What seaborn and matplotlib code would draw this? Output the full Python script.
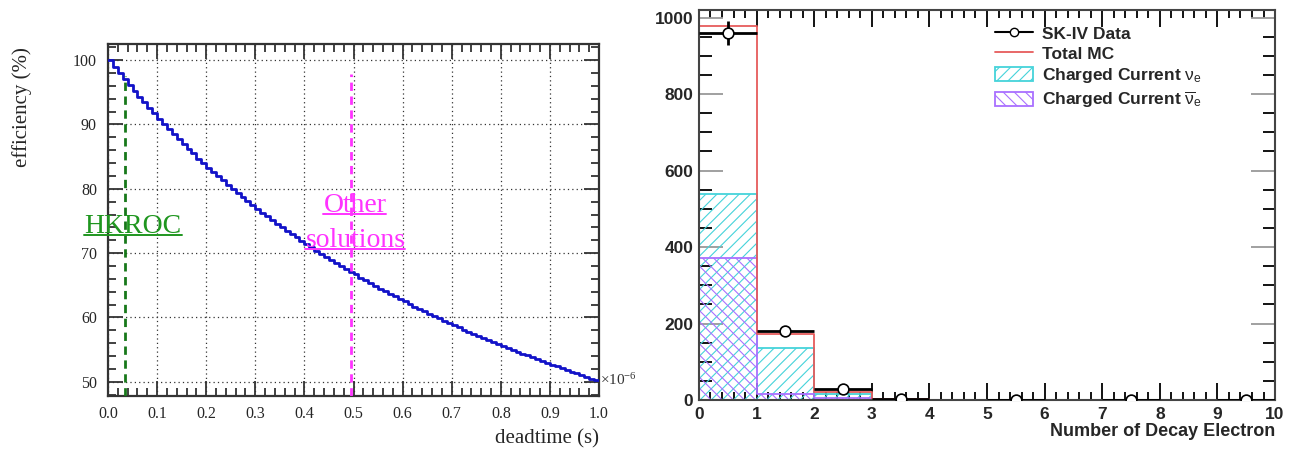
import numpy as np
import pandas as pd
import matplotlib
matplotlib.use("Agg")
import matplotlib.pyplot as plt
from matplotlib.lines import Line2D
from matplotlib.patches import Patch
from matplotlib.ticker import MultipleLocator, FormatStrFormatter
import seaborn as sns

# ---------------- data: left panel (efficiency vs deadtime, 100 bins of 0.01e-6 s) -------------
efficiency = [100.0, 99.0, 98.0, 97.1, 96.2, 95.2, 94.3, 93.5, 92.6, 91.7,
              90.9, 90.1, 89.3, 88.5, 87.7, 87.0, 86.2, 85.5, 84.7, 84.0,
              83.3, 82.6, 82.0, 81.3, 80.6, 80.0, 79.4, 78.7, 78.1, 77.5,
              76.9, 76.3, 75.8, 75.2, 74.6, 74.1, 73.5, 73.0, 72.5, 71.9,
              71.4, 70.9, 70.4, 69.9, 69.4, 69.0, 68.5, 68.0, 67.6, 67.1,
              66.7, 66.2, 65.8, 65.4, 64.9, 64.5, 64.1, 63.7, 63.3, 62.9,
              62.5, 62.1, 61.7, 61.3, 61.0, 60.6, 60.2, 59.9, 59.5, 59.2,
              58.8, 58.5, 58.1, 57.8, 57.5, 57.1, 56.8, 56.5, 56.2, 55.9,
              55.6, 55.2, 54.9, 54.6, 54.3, 54.1, 53.8, 53.5, 53.2, 52.9,
              52.6, 52.4, 52.1, 51.8, 51.5, 51.3, 51.0, 50.8, 50.5, 50.3]
deadtime_range = (0.0, 1.0)          # in units of 1e-6 s
hkroc_deadtime = 0.035
hkroc_marker_top = 97.5
other_deadtime = 0.495
other_marker_top = 97.8
eff_ylim = (47.8, 102.5)

# ---------------- data: right panel (number of decay electrons) ----------------
n_decay_edges = list(range(0, 11))
sk4_data = [959, 180, 30, 3, 0, 1, 0, 1, 0, 1]
sk4_err = [31, 13.4, 5.5, 1.7, 0, 1, 0, 1, 0, 1]
total_mc = [978, 173, 22, 2, 0.4, 0.3, 0.2, 0.2, 0.1, 0.1]
cc_nue = [540, 135, 15, 1.0, 0.2, 0.1, 0.1, 0.1, 0.1, 0.1]
cc_nuebar = [372, 15, 5, 0.5, 0.2, 0.1, 0.1, 0.1, 0.1, 0.1]

# ---------------- style ----------------
sns.set_style("white")
plt.rcParams["font.family"] = ["Liberation Serif", "DejaVu Serif"]
plt.rcParams["mathtext.fontset"] = "custom"
plt.rcParams["mathtext.rm"] = "Liberation Serif"
plt.rcParams["mathtext.it"] = "Liberation Serif:italic"
plt.rcParams["mathtext.bf"] = "Liberation Serif:bold"
plt.rcParams["mathtext.sf"] = "Liberation Sans"
plt.rcParams["hatch.linewidth"] = 0.8

fig = plt.figure(figsize=(12.98, 4.55), dpi=100)
fig.patch.set_facecolor("white")

# ======================= LEFT PANEL =======================
axL = fig.add_axes([0.0832, 0.1297, 0.3783, 0.7736])
nb = len(efficiency)
x_edges = np.linspace(deadtime_range[0], deadtime_range[1], nb + 1)
df_eff = pd.DataFrame({"deadtime": x_edges, "eff": efficiency + [efficiency[-1]]})
sns.lineplot(data=df_eff, x="deadtime", y="eff", drawstyle="steps-post",
             estimator=None, color="#1212c8", lw=2.0, ax=axL, zorder=4)

axL.plot([hkroc_deadtime, hkroc_deadtime], [eff_ylim[0], hkroc_marker_top],
         color="#17781a", lw=2.0, ls=(0, (3, 2)), zorder=5)
axL.plot([other_deadtime, other_deadtime], [eff_ylim[0], other_marker_top],
         color="#ff33ff", lw=2.0, ls=(0, (3, 2)), zorder=5)

axL.set_xlim(*deadtime_range)
axL.set_ylim(*eff_ylim)
axL.xaxis.set_major_locator(MultipleLocator(0.1))
axL.xaxis.set_minor_locator(MultipleLocator(0.02))
axL.yaxis.set_major_locator(MultipleLocator(10))
axL.yaxis.set_minor_locator(MultipleLocator(2))
axL.xaxis.set_major_formatter(FormatStrFormatter("%.1f"))
axL.grid(True, which="major", color="#333333", lw=0.9, ls=(0, (1, 2.5)))
axL.tick_params(which="both", direction="in", top=True, right=True,
                bottom=True, left=True, color="#333333", width=1.3)
axL.tick_params(which="major", length=11)
axL.tick_params(which="minor", length=6)
axL.tick_params(axis="x", which="major", labelsize=11.5, pad=7)
axL.tick_params(axis="y", which="major", labelsize=11.5, pad=8)
for s in axL.spines.values():
    s.set_color("#333333")
    s.set_linewidth(1.6)
axL.set_ylabel("efficiency (%)", fontsize=15)
axL.yaxis.set_label_coords(-0.155, 0.82)
axL.set_xlabel("deadtime (s)", fontsize=15, ha="right")
axL.xaxis.set_label_coords(1.0, -0.095)
axL.text(1.002, 0.045, r"$\times$10$^{-6}$", transform=axL.transAxes,
         fontsize=11, ha="left", va="center", color="#333333")

annot = []
annot.append(axL.text(0.051, 73.2, "HKROC", color="#1f961f",
                      fontsize=20, ha="center", va="baseline", zorder=6))
annot.append(axL.text(0.503, 76.4, "Other", color="#ff33ff",
                      fontsize=20, ha="center", va="baseline", zorder=6))
annot.append(axL.text(0.504, 71.0, "solutions", color="#ff33ff",
                      fontsize=20, ha="center", va="baseline", zorder=6))

# ======================= RIGHT PANEL =======================
axR = fig.add_axes([0.5385, 0.1209, 0.4438, 0.8571])
edges = [float(e) for e in n_decay_edges]
centers = [(a + b) / 2 for a, b in zip(edges[:-1], edges[1:])]
cyan = "#45d3da"
purple = "#a970ff"
red = "#e65c5c"

df_h = pd.DataFrame({"n": centers, "nue": cc_nue, "nuebar": cc_nuebar,
                     "mc": total_mc, "data": sk4_data, "err": sk4_err})


def hatched_hist(col, color, hatch):
    n_before = len(axR.collections)
    sns.histplot(x=df_h["n"].to_numpy(), weights=df_h[col].to_numpy(),
                 bins=edges, element="step", fill=True, color=color, ax=axR)
    for poly in axR.collections[n_before:]:
        poly.set_alpha(None)
        poly.set_facecolor("none")
        poly.set_edgecolor(color)
        poly.set_hatch(hatch)
        poly.set_linewidth(1.3)


hatched_hist("nue", cyan, "///")
hatched_hist("nuebar", purple, "\\\\\\")

sns.histplot(x=df_h["n"].to_numpy(), weights=df_h["mc"].to_numpy(), bins=edges,
             element="step", fill=False, color=red, lw=1.3, ax=axR)

dsel = df_h[df_h["data"] > 0]
axR.errorbar(dsel["n"], dsel["data"], yerr=dsel["err"], xerr=0.5, fmt="none",
             ecolor="black", elinewidth=2.0, capsize=0, zorder=6)
sns.scatterplot(data=dsel, x="n", y="data", marker="o", s=60,
                facecolor="white", edgecolor="black", linewidth=1.2,
                ax=axR, zorder=7)

axR.set_xlim(0, 10)
axR.set_ylim(0, 1020)
axR.xaxis.set_major_locator(MultipleLocator(1))
axR.xaxis.set_minor_locator(MultipleLocator(0.2))
axR.yaxis.set_major_locator(MultipleLocator(200))
axR.yaxis.set_minor_locator(MultipleLocator(50))
axR.tick_params(which="both", direction="in", top=True, right=True,
                bottom=True, left=True, width=1.3, color="black")
axR.tick_params(axis="x", which="major", length=12, pad=5)
axR.tick_params(axis="x", which="minor", length=6)
axR.tick_params(axis="y", which="major", length=17, color="#999999", pad=4)
axR.tick_params(axis="y", which="minor", length=9)
for s in axR.spines.values():
    s.set_color("#444444")
    s.set_linewidth(1.5)
for lab in axR.get_xticklabels() + axR.get_yticklabels():
    lab.set_fontfamily(["Liberation Sans", "DejaVu Sans"])
    lab.set_fontweight("bold")
    lab.set_fontsize(12.5)
axR.set_ylabel("")
axR.set_xlabel("Number of Decay Electron", fontsize=13, fontweight="bold",
               family=["Liberation Sans", "DejaVu Sans"], ha="right")
axR.xaxis.set_label_coords(1.0, -0.06)

handles = [
    Line2D([], [], color="black", lw=1.5, marker="o", markersize=6,
           markerfacecolor="white", markeredgecolor="black"),
    Line2D([], [], color=red, lw=1.3),
    Patch(facecolor="white", edgecolor=cyan, hatch="///", lw=1.3),
    Patch(facecolor="white", edgecolor=purple, hatch="\\\\\\", lw=1.3),
]
labels = ["SK-IV Data", "Total MC",
          r"Charged Current $\mathsf{\nu}_\mathsf{e}$",
          r"Charged Current $\overline{\mathsf{\nu}}_\mathsf{e}$"]
axR.legend(handles, labels, loc="upper left", bbox_to_anchor=(0.514, 0.96),
           frameon=False, borderpad=0, borderaxespad=0, handlelength=2.2,
           handleheight=0.85, handletextpad=0.5, labelspacing=0.25,
           prop={"family": ["Liberation Sans", "DejaVu Sans"],
                 "weight": "bold", "size": 12.5})

# underline the annotation texts (just below the baseline)
fig.canvas.draw()
renderer = fig.canvas.get_renderer()
inv = fig.transFigure.inverted()
for t in annot:
    bb = t.get_window_extent(renderer)
    base_px = axL.transData.transform(t.get_position())[1]
    y_px = base_px - 2.5
    (x0, y0), (x1, _) = inv.transform([(bb.x0, y_px), (bb.x1, y_px)])
    fig.add_artist(Line2D([x0, x1], [y0, y0], transform=fig.transFigure,
                          color=t.get_color(), lw=1.4, zorder=6))

fig.savefig("out.png", dpi=100, facecolor="white")
